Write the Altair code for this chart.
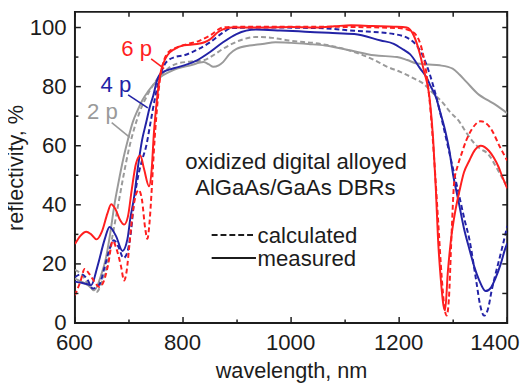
import altair as alt
import pandas as pd

# ---------------- data ----------------
# 2 periods
wl_2p_meas = [600, 612, 624, 636, 648, 657, 665, 673, 680, 690, 698, 707, 716, 725, 735, 747, 759, 775, 789, 814,
              838, 848, 856, 866, 874, 886, 899, 923, 947, 971, 1000, 1032, 1063, 1090, 1111, 1154, 1196, 1215, 1233,
              1255, 1275, 1299, 1312, 1324, 1348, 1363, 1378, 1400]
r_2p_meas = [15, 14, 12.8, 11.1, 16, 21.7, 30, 40, 47, 56, 62, 68, 72, 75.5, 78.3, 81, 83.3, 85, 86.1, 87.2,
             88.3, 87.5, 86.7, 87.2, 88.3, 91, 92.8, 93.9, 94.4, 95, 94.8, 94.4, 93.9, 93, 92.2, 90.6, 90, 89, 87.8,
             87.5, 87.2, 86.1, 84, 81.7, 77.2, 75.5, 73.9, 71]
wl_2p_calc = [600, 612, 625, 640, 650, 660, 670, 680, 690, 700, 710, 720, 735, 750, 760, 775, 789, 815, 838, 855,
              874, 905, 935, 965, 996, 1057, 1117, 1154, 1178, 1202, 1227, 1245, 1263, 1281, 1293, 1312, 1324, 1336,
              1350, 1363, 1385, 1400]
r_2p_calc = [18, 16.5, 13, 10.5, 14, 20, 30, 40, 50, 59, 66, 71.5, 77.5, 82, 84, 86.5, 87.8, 88.5, 88.9, 90.5,
             92.8, 95.6, 96.8, 96.5, 95.6, 94.4, 91.7, 89, 86.7, 85, 82.8, 81, 77.7, 74.5, 71.7, 68, 64.5, 61.5,
             59, 57.5, 51, 46]
# 4 periods
wl_4p_meas = [600, 612, 620, 630, 642, 655, 664, 676, 688, 697, 703, 709, 716, 724, 732, 738, 745, 753, 758, 770,
              785, 802, 826, 850, 874, 899, 935, 980, 1026, 1070, 1117, 1166, 1190, 1208, 1220, 1239, 1251, 1257,
              1269, 1275, 1284, 1293, 1300, 1309, 1320, 1330, 1340, 1348, 1360, 1370, 1378, 1388, 1396, 1400]
r_4p_meas = [14, 13.6, 13.3, 12.8, 19.4, 28.3, 32.5, 29.4, 24.4, 28.3, 36, 42, 52, 61.7, 68, 72.8, 77, 82.8, 84.3, 85.5,
             86.3, 87.2, 88.9, 91.7, 95, 97.8, 99.3, 99, 98.6, 98.2, 97.8, 95.6, 94.5, 92.5, 91, 86.1, 83, 80.6,
             76, 72, 66, 58.3, 50, 42, 32, 25, 18.5, 14.5, 10.8, 12, 15, 20, 25, 27]
wl_4p_calc = [600, 612, 622, 633, 645, 655, 664, 672, 680, 690, 697, 703, 710, 718, 724, 732, 740, 748, 758, 770,
              785, 802, 826, 850, 874, 890, 950, 1050, 1117, 1190, 1220, 1232, 1245, 1257, 1268, 1280, 1290, 1300,
              1310, 1321, 1330, 1342, 1350, 1357, 1364, 1372, 1381, 1390, 1400]
r_4p_calc = [15.5, 16.5, 15, 11.7, 13, 19, 25, 28, 26, 22, 24, 30, 42, 50.6, 55, 60, 68, 76, 84, 88.5,
             90, 90.6, 92.5, 95, 98.3, 99.8, 100, 99.8, 98.9, 97.8, 96, 94, 90, 84, 77, 68, 60, 52,
             44, 35, 28.3, 15, 6, 2.5, 4.5, 11.7, 18.5, 25, 32.8]
# 6 periods
wl_6p_meas = [600, 610, 621, 630, 640, 650, 660, 667, 675, 683, 691, 698, 705, 713, 721, 728, 737, 742, 746, 752,
              758, 765, 771, 785, 802, 826, 850, 865, 874, 890, 950, 1000, 1050, 1080, 1111, 1150, 1190, 1214, 1227,
              1237, 1245, 1257, 1263, 1268, 1272, 1277, 1282, 1285, 1290, 1296, 1304, 1312, 1320, 1330, 1340, 1351,
              1366, 1375, 1384, 1392, 1400]
r_6p_meas = [26.7, 29.5, 30.9, 30, 28.3, 31, 37, 40.2, 38.5, 35, 33.3, 36, 45, 54, 56.7, 52, 46.3, 52, 64, 76,
             84.3, 88.5, 90.6, 92.8, 94, 94.4, 96, 98.5, 99.4, 100, 100, 100.2, 100, 100.4, 100.8, 100.5, 100.3, 100,
             97.3, 92, 86, 75, 62, 45, 28.3, 15, 6, 4.3, 17, 28.3, 38, 45, 51, 55, 58.5, 60,
             58.3, 56, 52.8, 49, 45.6]
wl_6p_calc = [600, 610, 618, 625, 636, 645, 653, 661, 670, 677, 685, 691, 696, 700, 706, 712, 718, 724, 730, 734,
              738, 742, 746, 752, 758, 765, 775, 789, 810, 830, 850, 874, 900, 1000, 1100, 1200, 1225, 1240, 1250,
              1258, 1265, 1272, 1279, 1284, 1288, 1292, 1297, 1302, 1308, 1315, 1324, 1336, 1351, 1369, 1387, 1400]
r_6p_calc = [9.4, 14, 18.3, 17, 14, 12.2, 14, 19.4, 27.8, 25, 19.4, 14.4, 18, 25, 36, 43, 45, 41.7, 32, 28.5,
             34, 45, 58, 73, 83.5, 89, 92, 93.3, 94.5, 95.5, 97.3, 100, 100.3, 100.3, 100.2, 99.8, 98.5, 94, 85,
             72, 55, 35, 15, 5, 2.5, 8, 30, 48, 53, 57, 61.7, 66, 68.3, 66, 59.4, 55]

# ticks
x_major = [600, 800, 1000, 1200, 1400]
x_minor = [700, 900, 1100, 1300]
y_major = [0, 20, 40, 60, 80, 100]
y_minor = [10, 30, 50, 70, 90]

# annotations
ann_text = ["6 p", "4 p", "2 p"]
ann_x = [714, 675.6, 651]
ann_y = [90.3, 78.1, 69]
lead_x = [741, 698.4, 668]
lead_y = [89.4, 77.2, 67.8]
lead_x2 = [765, 734.8, 701.4]
lead_y2 = [86.1, 72.8, 62.8]

note_lines = ["oxidized digital alloyed", "AlGaAs/GaAs DBRs"]
note_x = [1009, 1008]
note_y = [52.0, 43.3]

legend_labels = ["calculated", "measured"]
legend_line_x = [853, 853]
legend_line_x2 = [935, 935]
legend_line_y = [29.8, 22.0]
legend_text_x = [938, 938]
legend_text_y = [27.0, 19.2]

# ---------------- styling ----------------
COL = {"2 p": "#9a9a9a", "4 p": "#2323a6", "6 p": "#ff1f1f"}
FONT = "Liberation Sans"
TXT = "#1c1c1c"
FRAME = "#1c1c1c"
W, H = 439, 316
FS = 22.5

xs = alt.Scale(domain=[600, 1400], nice=False, zero=False)
ys = alt.Scale(domain=[0, 105.3], nice=False, zero=False)

x_axis = alt.Axis(title="wavelength, nm", values=x_major, format="d", ticks=False, domain=False, grid=False,
                  labelFontSize=FS, labelFont=FONT, labelColor=TXT, labelPadding=9, labelFlush=False,
                  labelOffset={"condition": {"test": "datum.value == 1400", "value": -13}, "value": -1},
                  titleFontSize=22, titleFont=FONT, titleFontWeight="normal", titleColor=TXT, titlePadding=7)
y_axis = alt.Axis(title="reflectivity, %", values=y_major, format="d", ticks=False, domain=False, grid=False,
                  labelFontSize=FS, labelFont=FONT, labelColor=TXT, labelPadding=9, labelFlush=False,
                  titleFontSize=22, titleFont=FONT, titleFontWeight="normal", titleColor=TXT, titlePadding=2)


def X(field):
    return alt.X(f"{field}:Q", scale=xs, axis=x_axis)


def Y(field):
    return alt.Y(f"{field}:Q", scale=ys, axis=y_axis)


def curve(name, kind, wl, r):
    df = pd.DataFrame({"wl": wl, "r": r})
    kw = dict(color=COL[name], strokeWidth=2, interpolate="monotone", clip=True)
    if kind == "calculated":
        kw["strokeDash"] = [5, 3]
    return alt.Chart(df).mark_line(**kw).encode(x=X("wl"), y=Y("r"))


layers = [
    curve("2 p", "calculated", wl_2p_calc, r_2p_calc),
    curve("2 p", "measured", wl_2p_meas, r_2p_meas),
    curve("4 p", "calculated", wl_4p_calc, r_4p_calc),
    curve("4 p", "measured", wl_4p_meas, r_4p_meas),
    curve("6 p", "calculated", wl_6p_calc, r_6p_calc),
    curve("6 p", "measured", wl_6p_meas, r_6p_meas),
]

# inward ticks on all four sides
def xticks(vals, y0, y1):
    return alt.Chart(pd.DataFrame({"t": vals})).mark_rule(color=FRAME, strokeWidth=1.5).encode(
        x=X("t"), y=alt.value(y0), y2=alt.value(y1))


def yticks(vals, x0, x1):
    return alt.Chart(pd.DataFrame({"t": vals})).mark_rule(color=FRAME, strokeWidth=1.5).encode(
        y=Y("t"), x=alt.value(x0), x2=alt.value(x1))


layers += [
    xticks(x_major, H, H - 6), xticks(x_minor, H, H - 3.5),
    xticks(x_major + x_minor, 0, 5),
    yticks(y_major, 0, 6), yticks(y_minor, 0, 3.5),
    yticks(y_major + y_minor, W, W - 5),
]

# series annotations
ann_df = pd.DataFrame({"text": ann_text, "x": ann_x, "y": ann_y, "c": [COL[t] for t in ann_text],
                       "lx": lead_x, "ly": lead_y, "lx2": lead_x2, "ly2": lead_y2})
layers.append(alt.Chart(ann_df).mark_rule(strokeWidth=1.6).encode(
    x=X("lx"), y=Y("ly"), x2="lx2:Q", y2="ly2:Q", color=alt.Color("c:N", scale=None)))
layers.append(alt.Chart(ann_df).mark_text(font=FONT, fontSize=FS, align="center", baseline="alphabetic").encode(
    x=X("x"), y=Y("y"), text="text:N", color=alt.Color("c:N", scale=None)))

# note text
note_df = pd.DataFrame({"text": note_lines, "x": note_x, "y": note_y})
layers.append(alt.Chart(note_df).mark_text(font=FONT, fontSize=FS, align="center", baseline="alphabetic",
                                           color=TXT).encode(x=X("x"), y=Y("y"), text="text:N"))

# line-style key
key_df = pd.DataFrame({"label": legend_labels, "x": legend_line_x, "x2": legend_line_x2, "y": legend_line_y,
                       "tx": legend_text_x, "ty": legend_text_y})
layers.append(alt.Chart(key_df).transform_filter("datum.label == 'calculated'").mark_rule(
    color=TXT, strokeWidth=2, strokeDash=[6, 3]).encode(x=X("x"), x2="x2:Q", y=Y("y")))
layers.append(alt.Chart(key_df).transform_filter("datum.label == 'measured'").mark_rule(
    color=TXT, strokeWidth=2.2).encode(x=X("x"), x2="x2:Q", y=Y("y")))
layers.append(alt.Chart(key_df).mark_text(font=FONT, fontSize=FS, align="left", baseline="alphabetic",
                                          color=TXT).encode(x=X("tx"), y=Y("ty"), text="label:N"))

chart = alt.layer(*layers).properties(
    width=W, height=H,
    autosize=alt.AutoSizeParams(type="none"),
    padding={"left": 68, "top": 1, "right": 14, "bottom": 58},
    background="white",
).configure_view(stroke=FRAME, strokeWidth=2)

chart.save("out.html", embed_options={"renderer": "svg", "actions": False})
